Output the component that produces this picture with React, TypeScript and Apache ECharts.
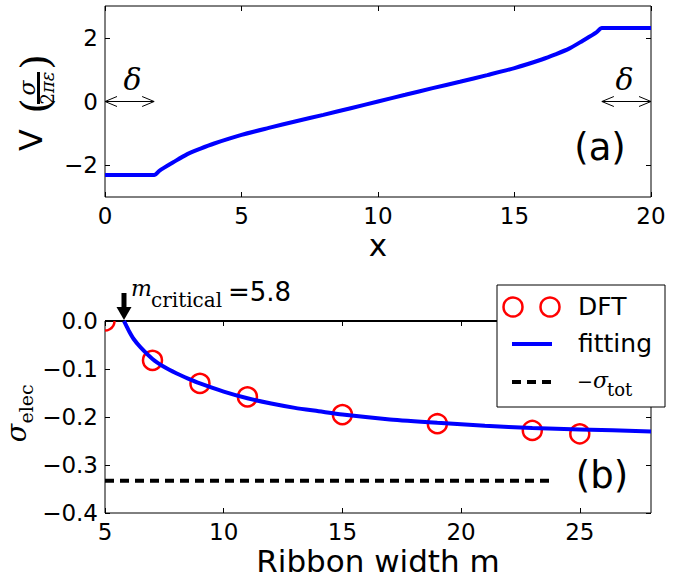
import React, { useEffect, useRef } from 'react';
import * as echarts from 'echarts';

// ---- panel (a): potential profile ----
const potentialX = [0, 1.0, 1.8, 2, 2.5, 3, 3.5, 4, 5, 6, 7, 8, 9, 10, 11, 12, 13, 14, 15, 16, 16.5, 17, 17.5, 18, 18.2, 19.0, 20];
const potentialV = [-2.31, -2.31, -2.31, -2.17, -1.91, -1.66, -1.48, -1.32, -1.05, -0.83, -0.62, -0.42, -0.21, 0.0, 0.21, 0.42, 0.62, 0.83, 1.05, 1.32, 1.48, 1.66, 1.91, 2.17, 2.31, 2.31, 2.31];
const topXTicks = [0, 5, 10, 15, 20];
const topYTicks = [-2, 0, 2];
const deltaWidth = 1.8;

// ---- panel (b): sigma_elec vs ribbon width ----
const dftM = [5, 7, 9, 11, 15, 19, 23, 25];
const dftSigma = [0.0, -0.082, -0.130, -0.158, -0.195, -0.214, -0.228, -0.235];
const fitM = [5.8, 5.9, 6.0, 6.2, 6.5, 7.0, 7.5, 8.0, 8.5, 9.0, 10, 11, 12, 13, 14, 15, 17, 19, 21, 23, 25, 28];
const fitSigma = [0.0, -0.010, -0.020, -0.037, -0.055, -0.079, -0.096, -0.109, -0.120, -0.130, -0.147, -0.161, -0.172, -0.181, -0.188, -0.195, -0.205, -0.212, -0.218, -0.223, -0.226, -0.230];
const sigmaTot = -0.333;
const sigmaTotM = [5, 23.8];
const mCritical = 5.8;
const botXTicks = [5, 10, 15, 20, 25];
const botYTicks = [-0.4, -0.3, -0.2, -0.1, 0.0];

const SANS = 'DejaVu Sans';
const SERIF = 'DejaVu Serif';
const minus = (s: string) => s.replace('-', '\u2212');

export default function App() {
  const ref = useRef<HTMLDivElement>(null);
  useEffect(() => {
    document.body.style.margin = '0';
    const chart = echarts.init(ref.current!, null, { renderer: 'svg' });
    const tickCommon = { show: true, inside: true, length: 5, lineStyle: { color: '#000', width: 1 } };
    const labelCommon = { color: '#000', fontFamily: SANS, fontSize: 23 };
    const xBase = (grid: number, min: number, max: number, ticks: number[], pos: string, labels: boolean) => ({
      type: 'value', gridIndex: grid, min, max, position: pos,
      axisLine: { show: false, onZero: false }, splitLine: { show: false },
      axisTick: { ...tickCommon, customValues: ticks },
      axisLabel: labels ? { ...labelCommon, margin: 7, customValues: ticks, formatter: (v: number) => minus(String(v)) } : { show: false },
    });
    const yBase = (grid: number, min: number, max: number, ticks: number[], pos: string, labels: boolean, fmt: (v: number) => string) => ({
      type: 'value', gridIndex: grid, min, max, position: pos,
      axisLine: { show: false, onZero: false }, splitLine: { show: false },
      axisTick: { ...tickCommon, customValues: ticks },
      axisLabel: labels ? { ...labelCommon, margin: 7, customValues: ticks, formatter: fmt } : { show: false },
    });
    const fmtTop = (v: number) => minus(String(v));
    const fmtBot = (v: number) => minus(v.toFixed(1)).replace('\u22120.0', '0.0');

    const option: any = {
      animation: false,
      grid: [
        { left: 105, top: 6, width: 546, height: 191, show: true, borderColor: '#000', borderWidth: 1, backgroundColor: 'transparent' },
        { left: 105, top: 321, width: 546, height: 192, show: true, borderColor: '#000', borderWidth: 1, backgroundColor: 'transparent' },
      ],
      xAxis: [
        xBase(0, 0, 20, topXTicks, 'bottom', true),
        xBase(0, 0, 20, topXTicks, 'top', false),
        xBase(1, 5, 28, botXTicks, 'bottom', true),
        xBase(1, 5, 28, botXTicks, 'top', false),
      ],
      yAxis: [
        yBase(0, -3, 3, topYTicks, 'left', true, fmtTop),
        yBase(0, -3, 3, topYTicks, 'right', false, fmtTop),
        yBase(1, -0.4, 0, botYTicks, 'left', true, fmtBot),
        yBase(1, -0.4, 0, botYTicks, 'right', false, fmtBot),
      ],
      series: [
        {
          type: 'line', xAxisIndex: 0, yAxisIndex: 0, showSymbol: false, z: 3,
          smooth: 0.25,
          data: potentialX.map((x, i) => [x, potentialV[i]]),
          lineStyle: { color: '#0000ff', width: 4 },
        },
        {
          type: 'line', xAxisIndex: 2, yAxisIndex: 2, showSymbol: false, z: 2,
          data: [[5, 0], [28, 0]],
          lineStyle: { color: '#000', width: 2 },
        },
        {
          type: 'custom', xAxisIndex: 2, yAxisIndex: 2, clip: true, z: 3,
          data: dftM.map((m, i) => [m, dftSigma[i]]),
          renderItem: (params: any, api: any) => {
            const p = api.coord([api.value(0), api.value(1)]);
            return { type: 'circle', shape: { cx: p[0], cy: p[1], r: 9.5 }, style: { fill: 'none', stroke: '#ff0000', lineWidth: 2.5 } };
          },
        },
        {
          type: 'line', xAxisIndex: 2, yAxisIndex: 2, showSymbol: false, z: 4,
          smooth: 0.25,
          data: fitM.map((m, i) => [m, fitSigma[i]]),
          lineStyle: { color: '#0000ff', width: 4 },
        },
        {
          type: 'line', xAxisIndex: 2, yAxisIndex: 2, showSymbol: false, z: 4,
          data: sigmaTotM.map((m) => [m, sigmaTot]),
          lineStyle: { color: '#000', width: 4, type: [9, 6] },
        },
      ],
    };
    chart.setOption(option);

    const pxTop = (x: number, y: number) => chart.convertToPixel({ xAxisIndex: 0, yAxisIndex: 0 }, [x, y]) as number[];
    const pxBot = (x: number, y: number) => chart.convertToPixel({ xAxisIndex: 2, yAxisIndex: 2 }, [x, y]) as number[];

    const g: any[] = [];
    const doubleArrow = (p: number[], q: number[]) => {
      const L = 12, W = 5;
      g.push({ type: 'line', shape: { x1: p[0], y1: p[1], x2: q[0], y2: q[1] }, style: { stroke: '#000', lineWidth: 1 }, z: 50 });
      g.push({ type: 'polyline', shape: { points: [[p[0] + L, p[1] - W], [p[0], p[1]], [p[0] + L, p[1] + W]] }, style: { stroke: '#000', lineWidth: 1, fill: null }, z: 50 });
      g.push({ type: 'polyline', shape: { points: [[q[0] - L, q[1] - W], [q[0], q[1]], [q[0] - L, q[1] + W]] }, style: { stroke: '#000', lineWidth: 1, fill: null }, z: 50 });
    };
    const txt = (text: string, x: number, y: number, font: any, align = 'left', extra: any = {}) => ({
      type: 'text', z: 60, ...extra,
      style: { text, x, y, fill: '#000', textAlign: align, textVerticalAlign: 'middle', ...font },
    });

    // delta arrows (panel a)
    const l0 = pxTop(0, 0), l1 = pxTop(deltaWidth, 0);
    const r0 = pxTop(20 - deltaWidth, 0), r1 = pxTop(20, 0);
    doubleArrow(l0, l1);
    doubleArrow(r0, r1);
    g.push(txt('\u03b4', (l0[0] + l1[0]) / 2 + 3, l0[1] - 22, { fontFamily: SERIF, fontStyle: 'italic', fontSize: 30 }, 'center'));
    g.push(txt('\u03b4', (r0[0] + r1[0]) / 2 - 2, r0[1] - 22, { fontFamily: SERIF, fontStyle: 'italic', fontSize: 30 }, 'center'));

    // m_critical arrow (panel b)
    const c = pxBot(mCritical, 0);
    g.push({ type: 'rect', shape: { x: c[0] - 2.5, y: c[1] - 28, width: 5, height: 16 }, style: { fill: '#000' }, z: 50 });
    g.push({ type: 'polygon', shape: { points: [[c[0] - 7.5, c[1] - 14], [c[0] + 7.5, c[1] - 14], [c[0], c[1] - 1]] }, style: { fill: '#000' }, z: 50 });
    g.push(txt('m', c[0] + 7, c[1] - 33, { fontFamily: SERIF, fontStyle: 'italic', fontSize: 22 }));
    g.push(txt('critical', c[0] + 27, c[1] - 21, { fontFamily: SERIF, fontSize: 20 }));
    g.push(txt('=5.8', c[0] + 104, c[1] - 29, { fontFamily: SANS, fontSize: 26 }));

    // panel letters
    g.push(txt('(a)', 600, 147, { fontFamily: SANS, fontSize: 37 }, 'center'));
    g.push(txt('(b)', 602, 475, { fontFamily: SANS, fontSize: 37 }, 'center'));

    // axis titles
    g.push(txt('x', 378, 245, { fontFamily: SANS, fontSize: 31 }, 'center'));
    g.push(txt('Ribbon width m', 378, 561, { fontFamily: SANS, fontSize: 31 }, 'center'));

    // rotated y title (a): V (sigma / 2 pi eps)
    g.push({
      type: 'group', rotation: Math.PI / 2, x: 0, y: 0,
      children: [
        txt('V', -140, 31, { fontFamily: SANS, fontSize: 32 }, 'center'),
        txt('(', -106, 35, { fontFamily: SERIF, fontSize: 40 }, 'center'),
        txt(')', -62, 35, { fontFamily: SERIF, fontSize: 40 }, 'center'),
        txt('\u03c3', -88, 27, { fontFamily: SERIF, fontStyle: 'italic', fontSize: 22 }, 'center'),
        { type: 'rect', shape: { x: -104, y: 37, width: 32, height: 3 }, style: { fill: '#000' } },
        {
          type: 'text', z: 60,
          style: {
            text: '{a|2}{b|\u03c0\u03b5}', x: -88, y: 47, textAlign: 'center', textVerticalAlign: 'middle', fill: '#000',
            rich: { a: { fontFamily: SERIF, fontSize: 18 }, b: { fontFamily: SERIF, fontStyle: 'italic', fontSize: 18 } },
          },
        },
      ],
    });
    // rotated y title (b): sigma_elec
    g.push({
      type: 'group', rotation: Math.PI / 2, x: 0, y: 0,
      children: [
        txt('\u03c3', -433, 16.5, { fontFamily: SERIF, fontStyle: 'italic', fontSize: 27 }, 'center'),
        txt('elec', -404, 26, { fontFamily: SERIF, fontSize: 19 }, 'center'),
      ],
    });

    // legend (panel b)
    g.push({ type: 'rect', shape: { x: 497, y: 285, width: 168, height: 122 }, style: { fill: '#fff', stroke: '#000', lineWidth: 1 }, z: 90 });
    g.push({ type: 'circle', shape: { cx: 513, cy: 307, r: 9.5 }, style: { fill: 'none', stroke: '#ff0000', lineWidth: 2.5 }, z: 95 });
    g.push({ type: 'circle', shape: { cx: 550, cy: 307, r: 9.5 }, style: { fill: 'none', stroke: '#ff0000', lineWidth: 2.5 }, z: 95 });
    g.push(txt('DFT', 578, 306, { fontFamily: SANS, fontSize: 25 }, 'left', { z: 95 }));
    g.push({ type: 'line', shape: { x1: 512, y1: 344, x2: 552, y2: 344 }, style: { stroke: '#0000ff', lineWidth: 4 }, z: 95 });
    g.push(txt('fitting', 578, 343, { fontFamily: SANS, fontSize: 25 }, 'left', { z: 95 }));
    g.push({ type: 'line', shape: { x1: 512, y1: 382, x2: 552, y2: 382 }, style: { stroke: '#000', lineWidth: 4, lineDash: [9, 6] }, z: 95 });
    g.push(txt('\u2212', 577, 381, { fontFamily: SERIF, fontSize: 19 }, 'left', { z: 95 }));
    g.push(txt('\u03c3', 593, 380, { fontFamily: SERIF, fontStyle: 'italic', fontSize: 22 }, 'left', { z: 95 }));
    g.push(txt('tot', 607, 389, { fontFamily: SERIF, fontSize: 18 }, 'left', { z: 95 }));

    chart.setOption({ graphic: g });
    return () => chart.dispose();
  }, []);
  return <div ref={ref} style={{ width: 681, height: 582, position: 'absolute', left: 0, top: 0 }} />;
}
